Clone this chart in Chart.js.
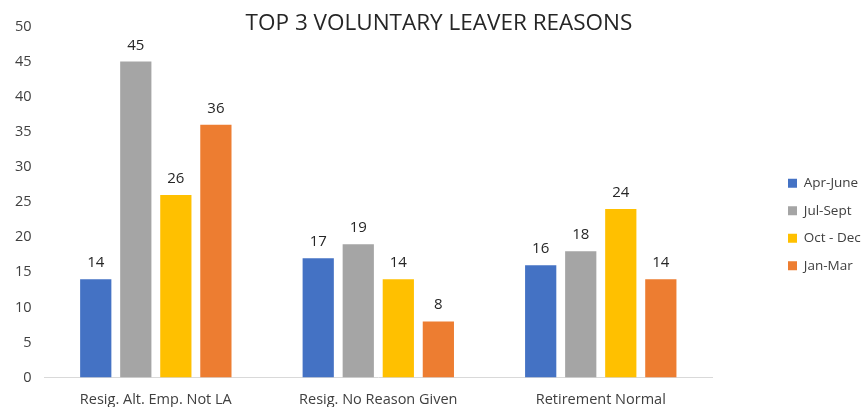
<!DOCTYPE html>
<html>
<head>
<meta charset="utf-8">
<script src="https://cdn.jsdelivr.net/npm/chart.js@4/dist/chart.umd.min.js"></script>
<style>
  html, body { margin: 0; padding: 0; background: #fff; }
  #wrap { width: 868px; height: 407px; }
</style>
</head>
<body>
<div id="wrap"><canvas id="chart"></canvas></div>
<script>
// Chart data
const categories = ['Resig. Alt. Emp. Not LA', 'Resig. No Reason Given', 'Retirement Normal'];
const seriesNames = ['Apr-June', 'Jul-Sept', 'Oct - Dec', 'Jan-Mar'];
const aprJune = [14, 17, 16];
const julSept = [45, 19, 18];
const octDec = [26, 14, 24];
const janMar = [36, 8, 14];
const seriesColors = ['#4472C4', '#A5A5A5', '#FFC000', '#ED7D31'];

const FONT = '"Open Sans", sans-serif';

// Draw value above each bar
const valueLabels = {
    id: 'valueLabels',
    afterDatasetsDraw(chart) {
        const ctx = chart.ctx;
        ctx.save();
        ctx.font = '15px ' + FONT;
        ctx.fillStyle = '#262626';
        ctx.textAlign = 'center';
        ctx.textBaseline = 'alphabetic';
        chart.data.datasets.forEach((ds, i) => {
            chart.getDatasetMeta(i).data.forEach((bar, j) => {
                ctx.fillText(ds.data[j], bar.x, bar.y - 12);
            });
        });
        ctx.restore();
    }
};

// Fixed-width legend, moved right and down like the original
const legendPlace = {
    id: 'legendPlace',
    beforeUpdate(chart) {
        const lg = chart.legend;
        if (lg && !lg._patched) {
            const fit = lg.fit;
            lg.fit = function() { fit.call(this); this.width = 156; };
            lg._patched = true;
        }
    },
    afterLayout(chart) {
        const lg = chart.legend;
        lg.left += 62;
        lg.top += 17;
        lg.bottom += 17;
    }
};

new Chart(document.getElementById('chart'), {
    type: 'bar',
    data: {
        labels: categories,
        datasets: [aprJune, julSept, octDec, janMar].map((vals, i) => ({
            label: seriesNames[i],
            data: vals,
            backgroundColor: seriesColors[i],
            categoryPercentage: 0.72,
            barPercentage: 0.78
        }))
    },
    options: {
        responsive: true,
        maintainAspectRatio: false,
        animation: false,
        layout: { padding: { left: 10, right: 0, top: 0, bottom: -8 } },
        plugins: {
            title: {
                display: true,
                text: 'TOP 3 VOLUNTARY LEAVER REASONS',
                color: '#262626',
                font: { family: FONT, size: 22.5, weight: 'normal', lineHeight: 1 },
                padding: { top: 12, bottom: -8 }
            },
            legend: {
                position: 'right',
                labels: {
                    boxWidth: 9,
                    boxHeight: 9,
                    padding: 14,
                    color: '#404040',
                    font: { family: FONT, size: 13.5 }
                }
            },
            tooltip: { enabled: false }
        },
        scales: {
            x: {
                grid: { display: false },
                border: { color: '#D9D9D9' },
                ticks: { color: '#404040', font: { family: FONT, size: 14.5 }, padding: 6 }
            },
            y: {
                min: 0,
                max: 50,
                grid: { display: false },
                border: { display: false },
                ticks: { stepSize: 5, color: '#404040', font: { family: FONT, size: 14.5 }, padding: 5 }
            }
        }
    },
    plugins: [valueLabels, legendPlace]
});
</script>
</body>
</html>
